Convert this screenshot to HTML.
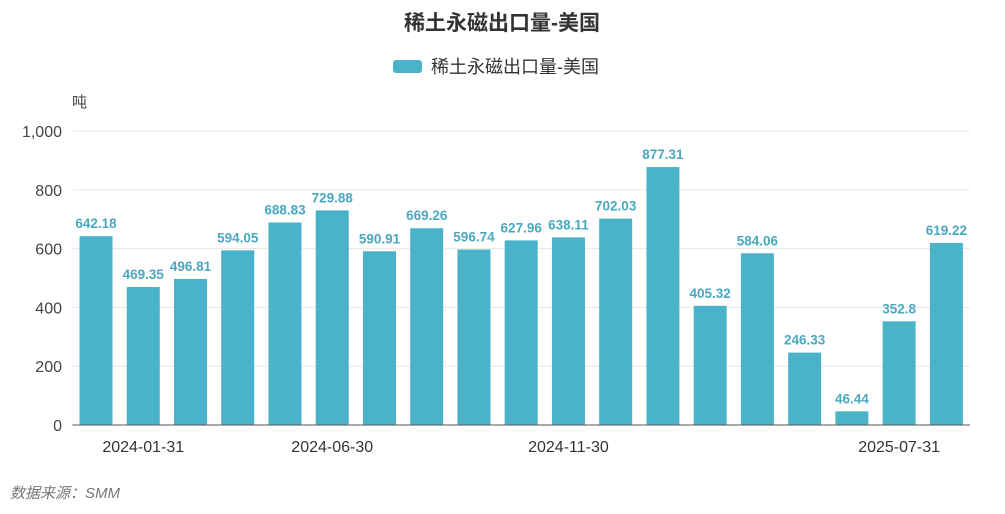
<!DOCTYPE html>
<html><head><meta charset="utf-8"><style>
body{margin:0;background:#fff;width:1005px;height:509px;overflow:hidden}
svg text{font-family:"Liberation Sans","Noto Sans CJK SC",sans-serif}
</style></head><body>
<svg id="c" width="1005" height="509">
<text x="502" y="30" text-anchor="middle" font-size="21" font-weight="bold" fill="#333">稀土永磁出口量-美国</text>
<g>
<rect x="393" y="60" width="29" height="13" rx="3" fill="#4ab3c9"/>
<text x="431" y="73" font-size="18" fill="#333">稀土永磁出口量-美国</text>
</g>
<text x="72" y="107" font-size="15" fill="#444">吨</text>
<g id="grid"></g><g id="bars"></g>
<text x="10" y="498" font-size="15" font-style="italic" fill="#777">数据来源：SMM</text>
</svg>
<script>
const categories=["2023-12-31","2024-01-31","2024-02-29","2024-03-31","2024-04-30","2024-06-30","2024-07-31","2024-08-31","2024-09-30","2024-10-31","2024-11-30","2024-12-31","2025-01-31","2025-02-28","2025-03-31","2025-04-30","2025-05-31","2025-07-31","2025-08-31"];
const values=[642.18,469.35,496.81,594.05,688.83,729.88,590.91,669.26,596.74,627.96,638.11,702.03,877.31,405.32,584.06,246.33,46.44,352.8,619.22];
const yTicks=[0,200,400,600,800,1000];
const yTickLabels=["0","200","400","600","800","1,000"];
const shownX=[1,5,10,17];
const NS="http://www.w3.org/2000/svg";
const L=72.4,R=970,T=131,B=425,yMax=1000;
const step=(R-L)/categories.length;
const x=i=>L+step*(i+0.5);
const y=v=>B-(v/yMax)*(B-T);
function mk(t,a,p){const e=document.createElementNS(NS,t);for(const k in a)e.setAttribute(k,a[k]);p.appendChild(e);return e;}
const g=document.getElementById('grid'),bg=document.getElementById('bars');
yTicks.forEach((t,i)=>{
 if(t>0){const ln=mk('line',{x1:L,x2:R,y1:y(t),y2:y(t),stroke:'#e6e6e6'},g);
 
 }
 const tx=mk('text',{x:62,y:y(t)+6,'text-anchor':'end','font-size':16,fill:'#444'},g);tx.textContent=yTickLabels[i];
 
 
});
values.forEach((v,i)=>{
 const r=mk('rect',{x:x(i)-16.5,y:y(v),width:33,height:B-y(v),fill:'#4ab3c9'},bg);
 
 
 const t=mk('text',{x:x(i),y:y(v)-8,'text-anchor':'middle','font-size':13.5,'font-weight':'bold',fill:'#4aa8c0'},bg);t.textContent=String(v);
 
 
});
const ax=mk('line',{x1:L,x2:R,y1:B,y2:B,stroke:'#555'},bg);


shownX.forEach(i=>{
 const t=mk('text',{x:x(i),y:452,'text-anchor':'middle','font-size':16,fill:'#333'},bg);t.textContent=categories[i];
 
 
});
</script>
</body></html>
